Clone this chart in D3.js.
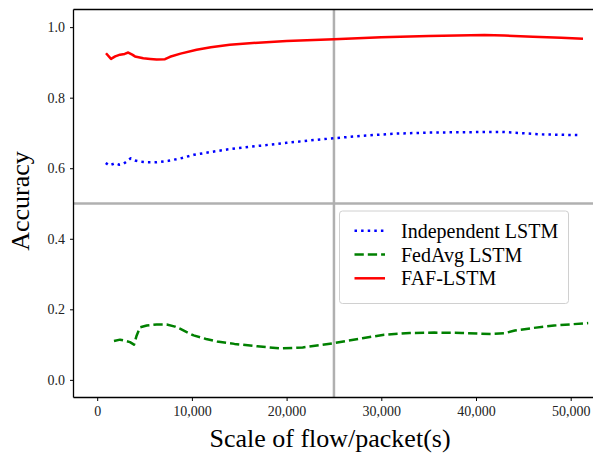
<!DOCTYPE html>
<html>
<head>
<meta charset="utf-8">
<script src="https://d3js.org/d3.v7.min.js"></script>
<style>
  body { margin: 0; background: #fff; }
  svg { display: block; font-family: "Liberation Serif", "Times New Roman", serif; }
</style>
</head>
<body>
<svg id="vis" width="593" height="456"></svg>
<script>
    // data: [flow scale, accuracy]
    var independentLSTM = [[900,.615],[1280,.608],[1880,.614],[2330,.610],[2760,.612],[3110,.619],[3540,.628],[3990,.622],[4520,.619],[5230,.617],[6280,.617],[7510,.621],[8800,.628],[10200,.638],[12000,.646],[13700,.653],[15500,.659],[17250,.664],[20000,.672],[22500,.679],[25000,.685],[28000,.692],[31400,.698],[35000,.701],[38400,.702],[42700,.703],[44500,.700],[46900,.696],[50700,.694]];
    var fedAvgLSTM = [[1770,.110],[2410,.114],[2940,.111],[3460,.107],[3890,.100],[4170,.126],[4520,.149],[5230,.154],[6280,.157],[7340,.157],[8220,.151],[8740,.145],[10180,.126],[11500,.116],[12660,.109],[14500,.102],[16900,.095],[19400,.089],[21700,.092],[25000,.104],[28000,.118],[30300,.128],[33000,.133],[35600,.134],[38500,.133],[41600,.130],[43000,.132],[44100,.140],[46000,.147],[48250,.154],[51850,.161]];
    var fafLSTM = [[930,.926],[1460,.910],[1900,.917],[2410,.922],[2900,.924],[3280,.928],[3700,.922],[3990,.917],[4870,.912],[5600,.910],[6280,.908],[7160,.909],[7690,.916],[8800,.925],[10500,.936],[12000,.943],[14000,.950],[17000,.956],[20000,.961],[25000,.966],[30000,.971],[35000,.975],[40900,.978],[43000,.976],[46000,.973],[49000,.970],[51300,.967]];

    var xTicks = [0, 10000, 20000, 30000, 40000, 50000];
    var yTicks = [0, 0.2, 0.4, 0.6, 0.8, 1.0];
    var refX = 25000, refY = 0.5;

    var series = [
        {name: "Independent LSTM", data: independentLSTM, color: "blue", dash: "2.5,4.1"},
        {name: "FedAvg LSTM", data: fedAvgLSTM, color: "green", dash: "9.3,4"},
        {name: "FAF-LSTM", data: fafLSTM, color: "red", dash: null}
    ];

    var pLeft = 73.5, pTop = 9.5, pBottom = 397.5, pRight = 600;

    var svg = d3.select("#vis");

    var x = d3.scaleLinear().domain([0, 50000]).range([97.2, 570.7]);
    var y = d3.scaleLinear().domain([-0.05, 1.05]).range([pBottom, pTop]);

    // reference lines
    svg.append("line")
        .attr("x1", x(refX)).attr("x2", x(refX))
        .attr("y1", pTop).attr("y2", pBottom)
        .attr("stroke", "#b0b0b0").attr("stroke-width", 2.5);
    svg.append("line")
        .attr("x1", pLeft).attr("x2", pRight)
        .attr("y1", y(refY)).attr("y2", y(refY))
        .attr("stroke", "#b0b0b0").attr("stroke-width", 2.5);

    var line = d3.line()
        .x(function(d) { return x(d[0]); })
        .y(function(d) { return y(d[1]); });

    series.forEach(function(s) {
        svg.append("path")
            .datum(s.data)
            .attr("d", line)
            .attr("fill", "none")
            .attr("stroke", s.color)
            .attr("stroke-width", 2.5)
            .attr("stroke-linejoin", "round")
            .attr("stroke-dasharray", s.dash);
    });

    // axes
    var xAxis = svg.append("g")
        .attr("transform", "translate(0," + pBottom + ")")
        .call(d3.axisBottom(x).tickValues(xTicks).tickFormat(d3.format(",")).tickSize(3.5).tickPadding(5));
    var yAxis = svg.append("g")
        .attr("transform", "translate(" + pLeft + ",0)")
        .call(d3.axisLeft(y).tickValues(yTicks).tickFormat(d3.format(".1f")).tickSize(3.5).tickPadding(5));
    [xAxis, yAxis].forEach(function(a) {
        a.select(".domain").remove();
        a.selectAll("text").attr("font-family", "Liberation Serif").attr("font-size", 14).attr("fill", "#222");
        a.selectAll("line").attr("stroke", "#000").attr("stroke-width", 1);
    });

    // spines
    svg.append("line").attr("x1", pLeft).attr("x2", pLeft).attr("y1", pTop).attr("y2", pBottom)
        .attr("stroke", "#000").attr("stroke-width", 1.3);
    svg.append("line").attr("x1", pLeft).attr("x2", pRight).attr("y1", pBottom).attr("y2", pBottom)
        .attr("stroke", "#000").attr("stroke-width", 1.3);
    svg.append("line").attr("x1", pLeft).attr("x2", pRight).attr("y1", pTop).attr("y2", pTop)
        .attr("stroke", "#000").attr("stroke-width", 1.3);

    // axis labels
    svg.append("text")
        .attr("x", 330).attr("y", 447)
        .attr("text-anchor", "middle")
        .attr("font-size", 26)
        .text("Scale of flow/packet(s)");
    svg.append("text")
        .attr("transform", "translate(29,201) rotate(-90)")
        .attr("text-anchor", "middle")
        .attr("font-size", 26)
        .text("Accuracy");

    // legend
    var lg = svg.append("g");
    lg.append("rect")
        .attr("x", 339.5).attr("y", 211)
        .attr("width", 229).attr("height", 92.5)
        .attr("rx", 3)
        .attr("fill", "#fff").attr("fill-opacity", 0.8)
        .attr("stroke", "#d0d0d0").attr("stroke-width", 1);
    series.forEach(function(s, i) {
        var cy = 230.7 + i * 23.8;
        lg.append("line")
            .attr("x1", 354.5).attr("x2", 385)
            .attr("y1", cy).attr("y2", cy)
            .attr("stroke", s.color).attr("stroke-width", 2.5)
            .attr("stroke-dasharray", s.dash);
        lg.append("text")
            .attr("x", 401).attr("y", cy + 7)
            .attr("font-size", 20)
            .text(s.name);
    });
</script>
</body>
</html>
